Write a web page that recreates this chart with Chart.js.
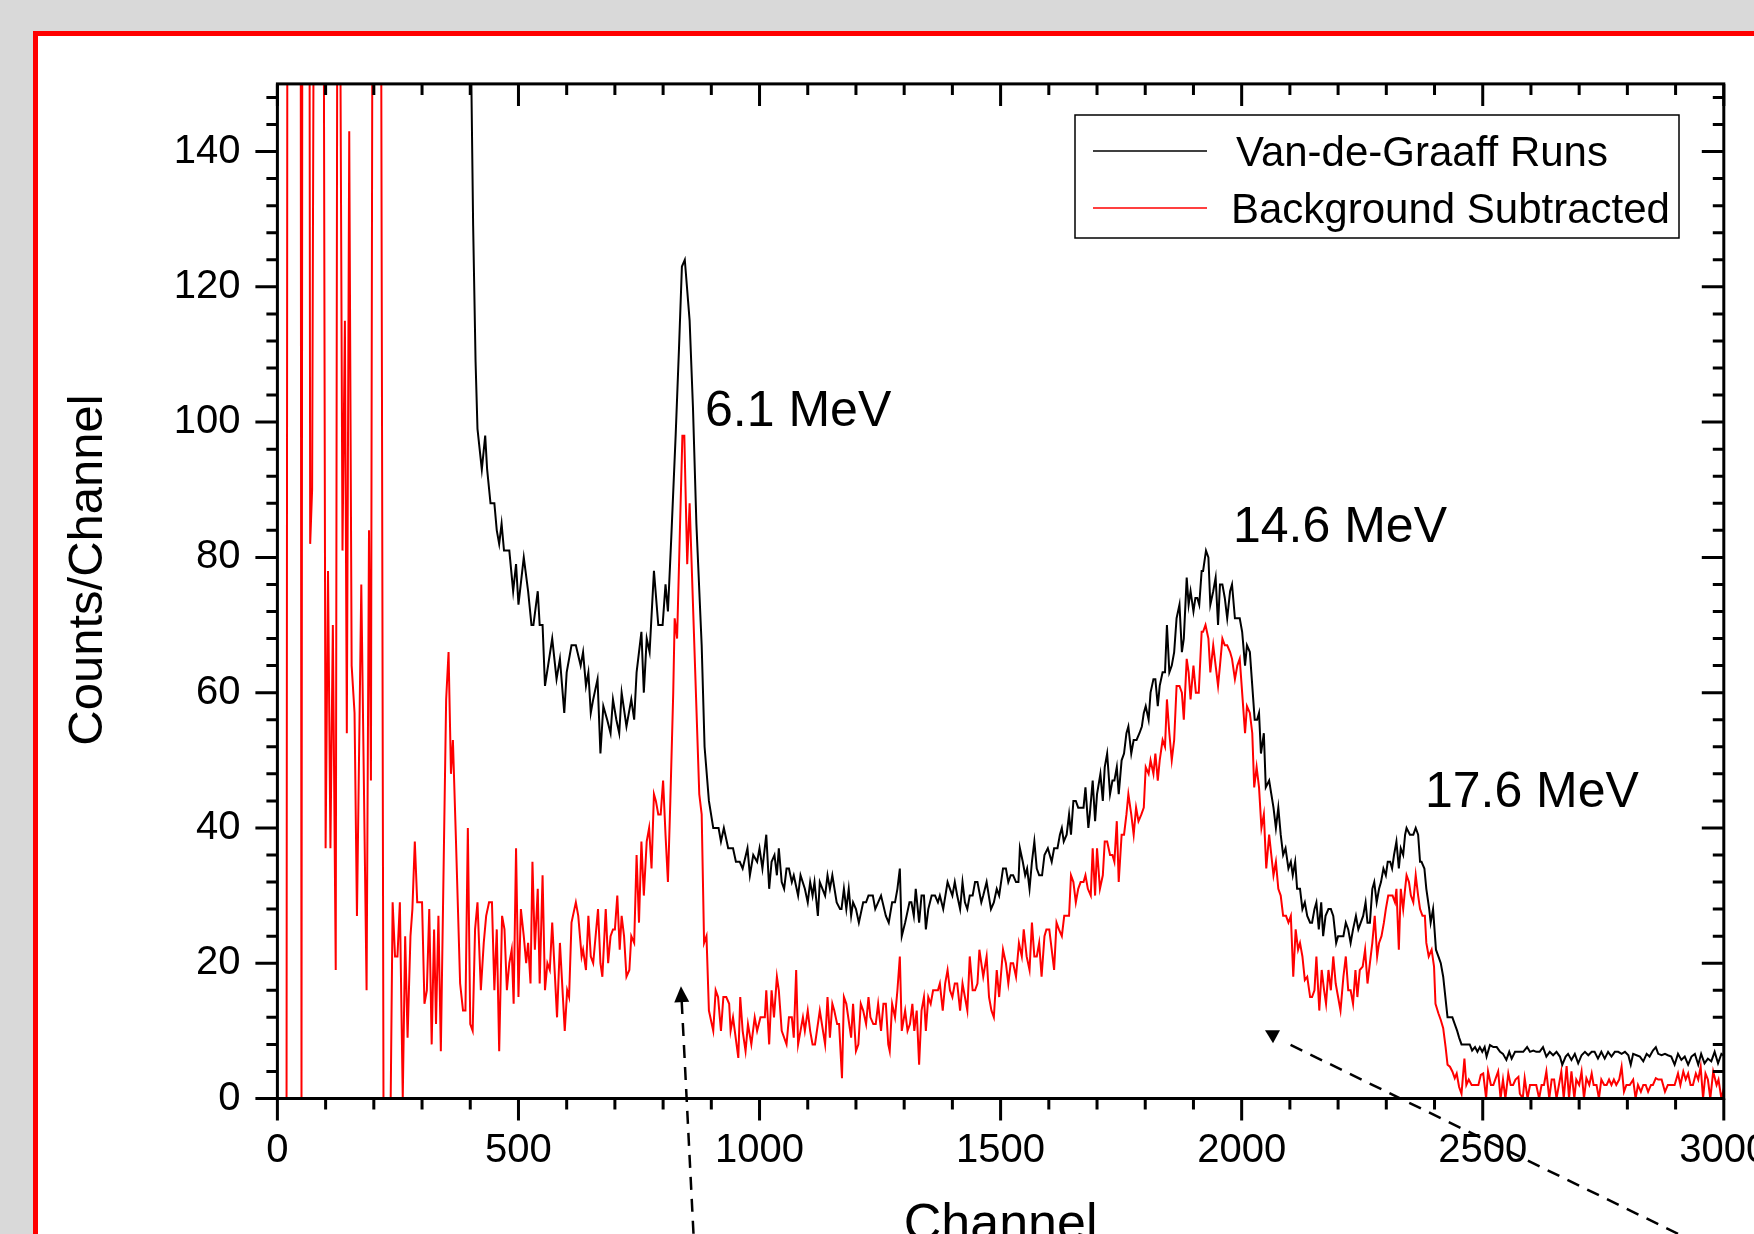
<!DOCTYPE html>
<html>
<head>
<meta charset="utf-8">
<title>Van-de-Graaff spectrum</title>
<script src="https://cdn.jsdelivr.net/npm/chart.js@4.4.1/dist/chart.umd.min.js"></script>
<style>
  html, body { margin: 0; padding: 0; background: #d9d9d9; }
  canvas { display: block; }
</style>
</head>
<body>
<canvas id="spectrum" width="1754" height="1234"></canvas>
<script>
// spectrum data, [channel, counts per channel]
const vdgRuns = [
  [400,400],[402,152],[406,129],[411,109],[415,99],[424,93],[431,98],[435,93],[442,88],[450,88],[455,84],[460,82],[465,85],[470,81],[476,81],[481,81],[489,75],[495,79],[500,73],[511,80],[520,75],[527,70],[531,70],[540,75],[544,70],[550,70],[555,61],[570,68],[579,62],[586,65],[595,57],[600,63],[610,67],[619,67],[629,64],[634,66],[640,61],[645,63],[650,57],[655,59],[664,62],[670,51],[676,58],[684,56],[691,54],[696,59],[703,56],[709,54],[714,60],[724,55],[734,59],[740,56],[745,63],[755,69],[760,60],[766,68],[772,66],[781,78],[790,70],[799,70],[805,76],[810,72],[817,83],[826,98],[833,111],[839,123],[845,124],[855,115],[862,102],[869,85],[880,67],[886,52],[895,44],[904,40],[915,40],[920,38],[926,40],[935,37],[945,37],[951,35],[959,35],[965,34],[975,37],[980,33],[987,36],[995,35],[1000,37],[1006,34],[1014,39],[1020,31],
  [1025,35],[1031,36],[1036,33],[1040,37],[1046,32],[1051,31],[1056,34],[1061,34],[1067,32],[1071,33],[1080,30],[1085,33],[1094,31],[1100,29],[1105,32],[1110,30],[1114,32],[1121,27],[1125,32],[1136,30],[1141,33],[1146,31],[1151,33],[1160,29],[1167,28],[1170,28],[1175,31],[1180,28],[1185,31],[1190,27],[1194,29],[1200,28],[1206,26],[1215,29],[1221,29],[1226,30],[1235,30],[1240,28],[1252,30],[1262,27],[1268,26],[1275,29],[1281,29],[1286,31],[1291,34],[1295,24],[1302,26],[1305,27],[1311,29],[1315,29],[1320,27],[1324,31],[1331,26],[1336,30],[1341,30],[1345,25],[1350,28],[1357,30],[1364,30],[1370,29],[1374,30],[1381,28],[1390,32],[1395,31],[1400,30],[1405,32],[1410,30],[1416,28],[1421,32],[1426,29],[1431,28],[1436,30],[1442,30],[1447,32],[1452,32],[1460,29],[1464,30],[1471,32],[1480,28],[1486,29],[1492,31],[1497,30],[1505,34],[1511,34],[1516,32],[1521,33],[1526,33],[1532,32],[1537,32],
  [1540,37],[1546,35],[1551,33],[1555,34],[1560,31],[1565,35],[1570,38],[1575,34],[1580,33],[1586,33],[1591,36],[1598,37],[1606,35],[1611,37],[1618,37],[1623,39],[1627,40],[1631,38],[1637,39],[1642,42],[1646,39],[1651,44],[1656,44],[1661,43],[1672,43],[1676,46],[1682,40],[1685,42],[1691,47],[1696,41],[1700,45],[1707,48],[1712,44],[1716,49],[1721,51],[1727,45],[1732,47],[1736,47],[1741,49],[1745,45],[1751,50],[1756,51],[1761,54],[1765,55],[1771,51],[1776,53],[1782,53],[1788,54],[1793,55],[1797,57],[1801,58],[1807,56],[1811,60],[1817,62],[1821,62],[1826,58],[1830,61],[1836,63],[1841,63],[1845,70],[1850,63],[1855,64],[1860,66],[1865,71],[1871,73],[1876,66],[1880,68],[1886,77],[1890,73],[1894,75],[1900,72],[1904,74],[1908,74],[1912,73],[1917,78],[1920,78],[1926,81],[1931,80],[1935,73],[1941,75],[1946,77],[1951,70],[1955,76],[1960,76],[1965,74],[1970,71],[1976,75],[1980,76],[1986,71],[1991,71],[1996,71],[2001,69],[2007,64],[2011,67],[2017,66],[2022,61],[2027,56],[2032,56],[2036,57],[2040,51],[2046,54],[2050,46],[2057,47],
  [2066,43],[2071,40],[2076,43],[2081,39],[2086,36],[2091,37],[2097,34],[2102,35],[2106,33],[2111,35],[2115,31],[2121,31],[2126,28],[2131,29],[2136,27],[2142,26],[2146,26],[2151,28],[2155,29],[2160,25],[2165,29],[2169,24],[2174,27],[2180,28],[2185,28],[2190,27],[2196,23],[2200,24],[2205,24],[2211,24],[2216,26],[2221,25],[2226,23],[2231,25],[2237,27],[2242,25],[2247,26],[2252,27],[2257,29],[2261,26],[2266,26],[2271,31],[2275,32],[2280,29],[2285,31],[2289,32],[2294,34],[2299,33],[2303,35],[2308,35],[2312,34],[2316,36],[2321,38],[2326,34],[2330,37],[2335,36],[2339,39],[2342,40],[2349,39],[2356,39],[2361,40],[2366,39],[2370,35],[2373,35],[2379,34],[2383,31],[2389,28],[2392,26],[2397,28],[2403,22],[2408,21],[2413,20],[2418,18],[2424,14],[2427,12],[2432,12],[2437,12],[2442,11],[2447,10],[2451,9],[2456,8],[2463,8],[2473,8],
  [2478,7.1],[2484,7.6],[2489,6.9],[2494,7.6],[2499,6.9],[2504,7.6],[2508,6.2],[2515,7.9],[2522,7.6],[2529,7.6],[2536,6.9],[2542,6.6],[2549,5.7],[2555,6.9],[2560,5.9],[2567,6.9],[2574,6.9],[2584,6.9],[2592,7.6],[2598,6.9],[2605,7.1],[2611,6.9],[2618,6.9],[2625,7.6],[2632,6.2],[2639,6.9],[2646,6.4],[2653,6.9],[2660,6.2],[2665,5],[2672,6.2],[2677,6.6],[2684,5.7],[2691,6.6],[2698,5.2],[2705,6.4],[2712,6.9],[2719,6.4],[2726,6.9],[2732,6.9],[2739,5.9],[2746,6.9],[2753,5.9],[2760,6.9],[2767,6.2],[2774,6.9],[2781,6.9],[2788,6.6],[2795,6.9],[2802,6.4],[2807,5],[2812,6.6],[2819,6.4],[2826,6.2],[2833,5.5],[2840,6.6],[2846,6.2],[2853,7.1],[2859,7.6],[2864,6.6],[2871,6.4],[2878,6.6],[2884,6.4],[2891,6.2],[2898,5],[2905,6.6],[2912,5.7],[2919,6.2],[2926,5],[2933,6.2],[2940,6.6],[2947,5],[2953,6.6],[2960,5.2],[2967,5.9],[2974,5.5],[2981,6.9],[2988,5.2],[2995,6.6],[3005,6]
];

const bgSubtracted = [
  [0,0],[19,0],[21,200],[48,200],[50,0],[52,200],[66,200],[68,82],[72,90],[77,200],[95,200],[100,37],[105,78],[110,37],[115,70],[121,19],[125,200],[128,200],[135,81],[140,115],[144,54],[149,143],[154,64],[160,57],[165,27],[174,76],[185,16],[190,84],[194,47],[198,200],[214,200],[220,0],[235,0],[239,29],[244,21],[249,21],[254,29],[260,0],[265,24],[270,9],[276,24],[280,28],[285,38],[290,29],[300,29],[305,14],[310,16],[315,28],[320,8],[325,25],[329,11],[334,27],[339,7],[350,59],[355,66],[360,48],[364,53],[370,39],[379,17],[385,13],[390,13],[395,40],[400,11],[405,10],[410,25],[415,29],[422,16],[428,23],[433,27],[439,29],[445,29],[450,16],[455,25],[460,7],[466,27],[471,25],[476,16],[481,20],[486,22],[490,14],[495,37],[500,15],
  [505,28],[511,24],[516,20],[520,23],[525,17],[529,35],[534,22],[540,31],[544,17],[550,33],[555,16],[560,20],[565,19],[570,26],[580,12],[586,23],[596,10],[601,16],[605,15],[610,26],[619,29],[624,27],[631,21],[634,22],[640,19],[645,27],[650,21],[655,20],[665,28],[670,20],[674,18],[681,28],[686,20],[691,24],[696,25],[700,25],[705,30],[710,22],[714,27],[719,24],[724,18],[730,19],[734,24],[740,23],[745,36],[750,26],[755,38],[760,30],[766,38],[771,40],[776,34],[781,45],[785,44],[790,42],[795,42],[800,47],[805,39],[810,32],[815,44],[821,60],[824,71],[829,68],[840,98],[844,98],[850,79],[855,88],[875,45],[880,42],[885,23],[890,24],[895,13],[904,10],[909,16],[914,15],[920,10],[925,15],[931,15],[937,14],[940,10],[945,12],[956,6],[960,15],[965,10],[971,7],[976,11],[983,8],[990,12],[995,10],[1002,12],[1011,12],[1014,16],[1020,8],
  [1025,16],[1030,12],[1036,18],[1040,16],[1046,10],[1056,8],[1061,12],[1067,12],[1071,9],[1076,19],[1080,8],[1085,10],[1090,12],[1094,10],[1100,13],[1105,10],[1110,8],[1115,8],[1125,13],[1136,8],[1141,15],[1146,9],[1151,14],[1155,13],[1161,11],[1165,11],[1171,3],[1175,15],[1180,14],[1190,9],[1194,14],[1200,7],[1205,8],[1210,14],[1215,13],[1221,11],[1226,15],[1230,12],[1236,11],[1241,11],[1246,14],[1252,10],[1257,14],[1262,14],[1267,8],[1270,7],[1275,14],[1281,12],[1286,16],[1291,21],[1295,10],[1302,13],[1307,10],[1312,11],[1317,14],[1321,10],[1326,13],[1331,5],[1336,13],[1341,15],[1345,10],[1350,15],[1355,14],[1360,16],[1370,16],[1374,17],[1380,13],[1385,17],[1390,19],[1395,16],[1400,15],[1405,17],[1410,17],[1416,13],[1421,17],[1426,15],[1431,13],[1436,21],[1442,16],[1447,16],[1452,17],[1456,22],[1464,18],[1471,21],[1476,15],[1481,13],[1486,12],[1492,19],[1497,15],[1505,22],[1511,20],[1516,17],[1521,20],[1526,20],[1532,18],[1538,23],
  [1544,21],[1548,25],[1554,21],[1560,19],[1565,26],[1570,21],[1575,21],[1580,23],[1585,18],[1591,24],[1595,25],[1601,25],[1606,22],[1611,19],[1616,26],[1621,25],[1627,24],[1632,27],[1642,27],[1646,33],[1651,32],[1656,29],[1661,31],[1666,32],[1672,32],[1676,33],[1681,31],[1687,30],[1691,37],[1696,30],[1700,37],[1706,31],[1712,33],[1716,38],[1721,38],[1727,36],[1732,36],[1736,35],[1741,41],[1745,32],[1751,39],[1756,39],[1761,42],[1765,45],[1771,42],[1776,39],[1781,43],[1786,41],[1792,42],[1797,43],[1801,49],[1807,48],[1811,50],[1817,48],[1821,51],[1826,47],[1830,50],[1836,53],[1841,52],[1845,59],[1850,54],[1855,50],[1860,53],[1865,61],[1871,61],[1876,60],[1880,56],[1886,65],[1890,63],[1894,59],[1900,64],[1905,60],[1911,60],[1917,69],[1920,69],[1925,70],[1931,68],[1935,63],[1941,67],[1946,64],[1951,61],[1955,64],[1960,68],[1965,67],[1970,67],[1976,66],[1980,65],[1986,62],[1991,64],[1996,65],[2001,60],[2007,54],[2011,58],[2017,57],[2022,54],[2026,46],[2031,49],[2036,46],[2041,40],[2046,42],[2051,34],[2057,39],
  [2066,33],[2071,35],[2076,31],[2081,30],[2086,27],[2092,27],[2097,26],[2102,27],[2107,18],[2112,25],[2117,22],[2121,23],[2126,21],[2131,17.5],[2136,18],[2142,15],[2146,15],[2151,16],[2155,21],[2161,13],[2166,19],[2171,16],[2175,14],[2180,19],[2185,16],[2190,21],[2195,17],[2200,15],[2205,13],[2211,18],[2216,21],[2221,16],[2226,16],[2231,14],[2236,19],[2240,15],[2245,19],[2251,19.5],[2256,22],[2261,17],[2266,20],[2271,23],[2276,27],[2281,21],[2285,23],[2290,24],[2295,26],[2299,28],[2304,30],[2309,30],[2313,30],[2318,29],[2321,31],[2326,22],[2330,31],[2335,28],[2339,31],[2342,33],[2347,32],[2351,30],[2356,29],[2361,33],[2366,30],[2370,28],[2375,27],[2380,27],[2383,23],[2388,21],[2394,22],[2399,19.5],[2402,14],[2408,12.6],[2413,11.6],[2418,10.4],[2423,7.6],[2427,5],[2432,4.7],[2437,4],[2442,3],[2446,3.7],[2451,1.7],[2456,0.7],
  [2462,5.9],[2466,2],[2471,2.8],[2477,2],[2484,2],[2491,2],[2496,3.5],[2501,3.7],[2507,0],[2511,4],[2517,2],[2522,2],[2527,3],[2532,4],[2537,0],[2542,2.8],[2547,0],[2553,3.7],[2558,2],[2563,2],[2568,2.8],[2574,3.2],[2577,0.7],[2583,0],[2587,3],[2593,0],[2598,2],[2605,2],[2611,2],[2617,0],[2622,2],[2627,2],[2632,4],[2638,0],[2643,2.8],[2648,2.8],[2653,0],[2658,2],[2663,4],[2668,0],[2674,4.8],[2679,0],[2684,4],[2690,0],[2694,2.8],[2700,2],[2705,4],[2710,0],[2715,3],[2721,2],[2726,3.7],[2730,2],[2736,2],[2741,0],[2746,2.8],[2752,2],[2757,2],[2762,2.8],[2767,2],[2772,2.8],[2777,2],[2783,2.8],[2788,4.7],[2793,1],[2798,2],[2805,2],[2812,2.8],[2817,0],[2822,2],[2828,1],[2833,2],[2838,2],[2843,1],[2849,2],[2853,2],[2859,3],[2864,2.8],[2871,2.8],[2878,1],[2884,2],[2891,2],[2898,2],[2905,3.7],[2910,2],[2916,4],[2921,2.8],[2926,3.7],[2931,2],[2936,2],[2942,3.7],[2947,2.8],[2952,4.7],[2957,0],[2962,3.7],[2967,2.8],[2972,0],[2978,4],[2985,2],[2989,2.8],[2995,0],[3005,3]
];

const seriesNames = ['Van-de-Graaff Runs', 'Background Subtracted'];
const seriesColors = ['#000000', '#ff0000'];
const channelTicks = [0, 500, 1000, 1500, 2000, 2500, 3000];
const countTicks = [0, 20, 40, 60, 80, 100, 120, 140];

// peak labels and pointer arrows, placed in channel / count units
const peakLabels = [
  { text: '6.1 MeV', ch: 887, counts: 99.4 },
  { text: '14.6 MeV', ch: 1982, counts: 82.3 },
  { text: '17.6 MeV', ch: 2380, counts: 43.1 }
];
const pointerUp = { from: [863, -20], to: [837, 16.6] };
const pointerDiag = { from: [2905, -20], to: [2065, 9.2] };

const FONT = '"Liberation Sans", Arial, Helvetica, sans-serif';

const toPoints = pairs => pairs.map(([x, y]) => ({ x, y }));

function strokeLine(ctx, x1, y1, x2, y2) {
  ctx.moveTo(x1, y1);
  ctx.lineTo(x2, y2);
}

const framePlugin = {
  id: 'frame',
  beforeDraw(chart) {
    const ctx = chart.ctx;
    ctx.save();
    ctx.fillStyle = '#d9d9d9';
    ctx.fillRect(0, 0, chart.width, chart.height);
    ctx.fillStyle = '#ffffff';
    ctx.fillRect(33, 31, chart.width, chart.height);
    ctx.strokeStyle = '#ff0000';
    ctx.lineWidth = 5;
    ctx.strokeRect(35.5, 33.5, chart.width + 40, chart.height + 40);
    ctx.restore();
  },
  afterDraw(chart) {
    const { ctx, chartArea: a } = chart;
    const xs = chart.scales.x, ys = chart.scales.y;
    ctx.save();

    // axis box and tick marks (outward on bottom/left, inward on top/right)
    ctx.strokeStyle = '#000';
    ctx.lineWidth = 3;
    ctx.strokeRect(a.left, a.top, a.right - a.left, a.bottom - a.top);
    ctx.beginPath();
    for (let c = 0; c <= 3000; c += 100) {
      const px = xs.getPixelForValue(c);
      const len = c % 500 === 0 ? 22 : 11;
      strokeLine(ctx, px, a.bottom, px, a.bottom + len);
      strokeLine(ctx, px, a.top, px, a.top + len);
    }
    for (let v = 0; v <= 150; v += 4) {
      const py = ys.getPixelForValue(v);
      const len = v % 20 === 0 ? 22 : 11;
      strokeLine(ctx, a.left, py, a.left - len, py);
      strokeLine(ctx, a.right, py, a.right - len, py);
    }
    ctx.stroke();

    // y axis title
    ctx.fillStyle = '#000';
    ctx.font = '49px ' + FONT;
    ctx.textAlign = 'center';
    ctx.textBaseline = 'alphabetic';
    ctx.save();
    ctx.translate(102, 570);
    ctx.rotate(-Math.PI / 2);
    ctx.fillText('Counts/Channel', 0, 0);
    ctx.restore();

    // peak labels
    ctx.font = '50px ' + FONT;
    ctx.textAlign = 'left';
    peakLabels.forEach(p => {
      ctx.fillText(p.text, xs.getPixelForValue(p.ch), ys.getPixelForValue(p.counts));
    });

    // dashed pointers
    ctx.lineWidth = 2.5;
    ctx.setLineDash([13, 9]);
    const up0 = [xs.getPixelForValue(pointerUp.from[0]), ys.getPixelForValue(pointerUp.from[1])];
    const up1 = [xs.getPixelForValue(pointerUp.to[0]), ys.getPixelForValue(pointerUp.to[1])];
    const ang = Math.atan2(up1[1] - up0[1], up1[0] - up0[0]);
    ctx.beginPath();
    strokeLine(ctx, up0[0], up0[1], up1[0] - 15 * Math.cos(ang), up1[1] - 15 * Math.sin(ang));
    ctx.stroke();
    ctx.setLineDash([]);
    ctx.beginPath();
    ctx.moveTo(up1[0], up1[1]);
    ctx.lineTo(up1[0] - 16 * Math.cos(ang) + 7.5 * Math.sin(ang), up1[1] - 16 * Math.sin(ang) - 7.5 * Math.cos(ang));
    ctx.lineTo(up1[0] - 16 * Math.cos(ang) - 7.5 * Math.sin(ang), up1[1] - 16 * Math.sin(ang) + 7.5 * Math.cos(ang));
    ctx.closePath();
    ctx.fill();

    const d0 = [xs.getPixelForValue(pointerDiag.from[0]), ys.getPixelForValue(pointerDiag.from[1])];
    const d1 = [xs.getPixelForValue(pointerDiag.to[0]), ys.getPixelForValue(pointerDiag.to[1])];
    ctx.setLineDash([13, 9]);
    ctx.beginPath();
    strokeLine(ctx, d0[0], d0[1], d1[0] + 10, d1[1] + 5);
    ctx.stroke();
    ctx.setLineDash([]);
    ctx.beginPath();
    ctx.moveTo(d1[0] - 8, d1[1] - 6);
    ctx.lineTo(d1[0] + 7, d1[1] - 6);
    ctx.lineTo(d1[0], d1[1] + 7);
    ctx.closePath();
    ctx.fill();

    // legend box
    const box = { left: 1075, top: 115, right: 1679, bottom: 238 };
    ctx.lineWidth = 1.5;
    ctx.strokeRect(box.left, box.top, box.right - box.left, box.bottom - box.top);
    ctx.font = '42px ' + FONT;
    ctx.textAlign = 'left';
    chart.data.datasets.forEach((ds, i) => {
      const yRow = 151 + i * 57;
      ctx.strokeStyle = ds.borderColor;
      ctx.lineWidth = 1.5;
      ctx.beginPath();
      strokeLine(ctx, 1093, yRow, 1207, yRow);
      ctx.stroke();
      ctx.fillStyle = '#000';
      ctx.fillText(ds.label, i === 0 ? 1236 : 1231, yRow + 15);
    });
    ctx.restore();
  }
};

new Chart(document.getElementById('spectrum'), {
  type: 'line',
  data: {
    datasets: [
      { label: seriesNames[0], data: toPoints(vdgRuns), borderColor: seriesColors[0] },
      { label: seriesNames[1], data: toPoints(bgSubtracted), borderColor: seriesColors[1] }
    ]
  },
  options: {
    responsive: false,
    animation: false,
    devicePixelRatio: 1,
    events: [],
    parsing: false,
    layout: { padding: { left: 0, top: 83.9, right: 30.2, bottom: 0 } },
    elements: {
      line: { borderWidth: 2, tension: 0, fill: false },
      point: { radius: 0 }
    },
    plugins: {
      legend: { display: false },
      tooltip: { enabled: false }
    },
    scales: {
      x: {
        type: 'linear',
        min: 0,
        max: 3000,
        grid: { display: false, drawTicks: false },
        border: { display: false },
        afterBuildTicks: s => { s.ticks = channelTicks.map(v => ({ value: v })); },
        afterFit: s => { s.height = 135.5; s.paddingLeft = 0; s.paddingRight = 0; },
        ticks: {
          color: '#000',
          font: { family: FONT, size: 40 },
          padding: 28,
          maxRotation: 0,
          autoSkip: false,
          callback: v => String(v)
        },
        title: {
          display: true,
          text: 'Channel',
          color: '#000',
          font: { family: FONT, size: 52 },
          padding: { top: 0, bottom: -22.8 }
        }
      },
      y: {
        type: 'linear',
        min: 0,
        max: 150,
        grid: { display: false, drawTicks: false },
        border: { display: false },
        afterBuildTicks: s => { s.ticks = countTicks.map(v => ({ value: v })); },
        afterFit: s => { s.width = 277.4; s.paddingTop = 0; s.paddingBottom = 0; },
        ticks: {
          color: '#000',
          font: { family: FONT, size: 40 },
          padding: 37,
          autoSkip: false,
          callback: v => String(v)
        }
      }
    }
  },
  plugins: [framePlugin]
});
</script>
</body>
</html>
